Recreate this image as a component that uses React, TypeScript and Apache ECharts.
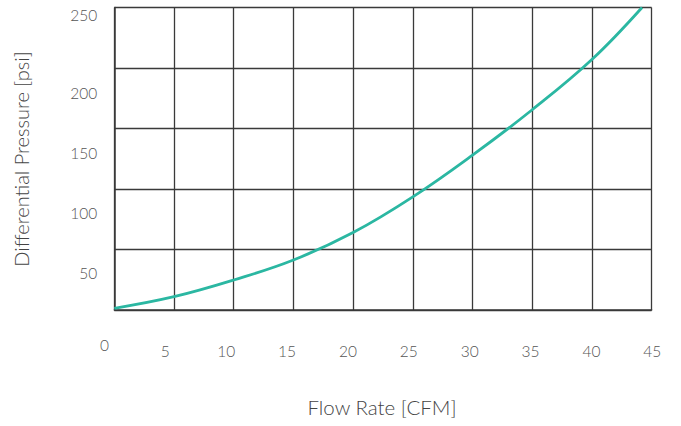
import React, { useEffect, useRef } from "react";
import * as echarts from "echarts";

const flowRate = [0, 5, 10, 15, 20, 25, 30, 35, 40, 44.2];
const pressure = [1.4, 11, 24.8, 41.3, 64, 93.5, 128, 165.5, 207, 250];
const xTicks = [0, 5, 10, 15, 20, 25, 30, 35, 40, 45];
const yTicks = [0, 50, 100, 150, 200, 250];
const xTitle = "Flow Rate [CFM]";
const yTitle = "Differential Pressure [psi]";

const FONT = "Lato, 'Open Sans', sans-serif";

export default function App() {
  const ref = useRef<HTMLDivElement>(null);
  useEffect(() => {
    if (!ref.current) return;
    const chart = echarts.init(ref.current, undefined, { renderer: "svg" });
    const gridColor = "#3a3a3a";
    const lbl = { color: "#555", fontFamily: FONT, fontSize: 15.5, fontWeight: 300 };
    chart.setOption({
      animation: false,
      backgroundColor: "#ffffff",
      grid: [
        { left: 114.3, right: 29.4, top: 7.5, bottom: 116 },
        { left: 114.3, right: 29.4, top: 33, bottom: 93 },
        { left: 104.5, right: 28.7, top: 7.5, bottom: 116 },
      ],
      xAxis: [
        {
          gridIndex: 0,
          type: "value",
          min: xTicks[0],
          max: xTicks[xTicks.length - 1],
          interval: 5,
          axisLabel: { show: false },
          axisTick: { show: false },
          axisLine: { show: true, lineStyle: { color: gridColor, width: 1.5 } },
          splitLine: { show: true, lineStyle: { color: gridColor, width: 1.3 } },
        },
        {
          gridIndex: 1,
          type: "value",
          show: false,
          min: 0,
          max: 45,
        },
        {
          gridIndex: 2,
          type: "value",
          min: xTicks[0],
          max: xTicks[xTicks.length - 1],
          interval: 5,
          axisLine: { show: false },
          axisTick: { show: false },
          splitLine: { show: false },
          axisLabel: {
            show: true,
            margin: 41,
            verticalAlign: "middle",
            ...lbl,
            formatter: (v: number) =>
              xTicks.includes(v) ? (v === 0 ? "{z|0}" : "{n|" + v + "}") : "",
            rich: {
              z: { padding: [0, 0, 12, 0], ...lbl },
              n: { ...lbl },
            },
          },
        },
      ],
      yAxis: [
        {
          gridIndex: 0,
          type: "value",
          min: yTicks[0],
          max: yTicks[yTicks.length - 1],
          interval: 50,
          axisLabel: { show: false },
          axisTick: { show: false },
          axisLine: { show: true, lineStyle: { color: gridColor, width: 1.5 } },
          splitLine: { show: true, lineStyle: { color: gridColor, width: 1.3 } },
        },
        {
          gridIndex: 1,
          type: "value",
          min: yTicks[0],
          max: yTicks[yTicks.length - 1],
          interval: 50,
          axisLine: { show: false },
          axisTick: { show: false },
          splitLine: { show: false },
          axisLabel: {
            show: true,
            margin: 17,
            ...lbl,
            formatter: (v: number) =>
              v === 0 ? "" : v === 250 ? "{t|" + v + "}" : "{n|" + v + "}",
            rich: {
              t: { padding: [0, 0, 36, 0], ...lbl },
              n: { ...lbl },
            },
          },
        },
        {
          gridIndex: 2,
          type: "value",
          show: false,
          min: 0,
          max: 250,
        },
      ],
      graphic: [
        {
          type: "text",
          x: 382,
          y: 407,
          style: {
            text: xTitle,
            fill: "#444",
            font: "300 20.5px " + FONT,
            align: "center",
            verticalAlign: "middle",
          },
        },
        {
          type: "text",
          x: 21,
          y: 159,
          rotation: Math.PI / 2,
          style: {
            text: yTitle,
            fill: "#444",
            font: "300 20px " + FONT,
            align: "center",
            verticalAlign: "middle",
          },
        },
      ],
      series: [
        {
          type: "line",
          xAxisIndex: 0,
          yAxisIndex: 0,
          data: flowRate.map((x, i) => [x, pressure[i]]),
          smooth: 0.4,
          showSymbol: false,
          clip: true,
          lineStyle: { color: "#2bb7a2", width: 2.8 },
          itemStyle: { color: "#2bb7a2" },
        },
      ],
    });
    return () => chart.dispose();
  }, []);
  return (
    <div
      ref={ref}
      style={{ position: "fixed", left: 0, top: 0, width: 681, height: 426 }}
    />
  );
}
